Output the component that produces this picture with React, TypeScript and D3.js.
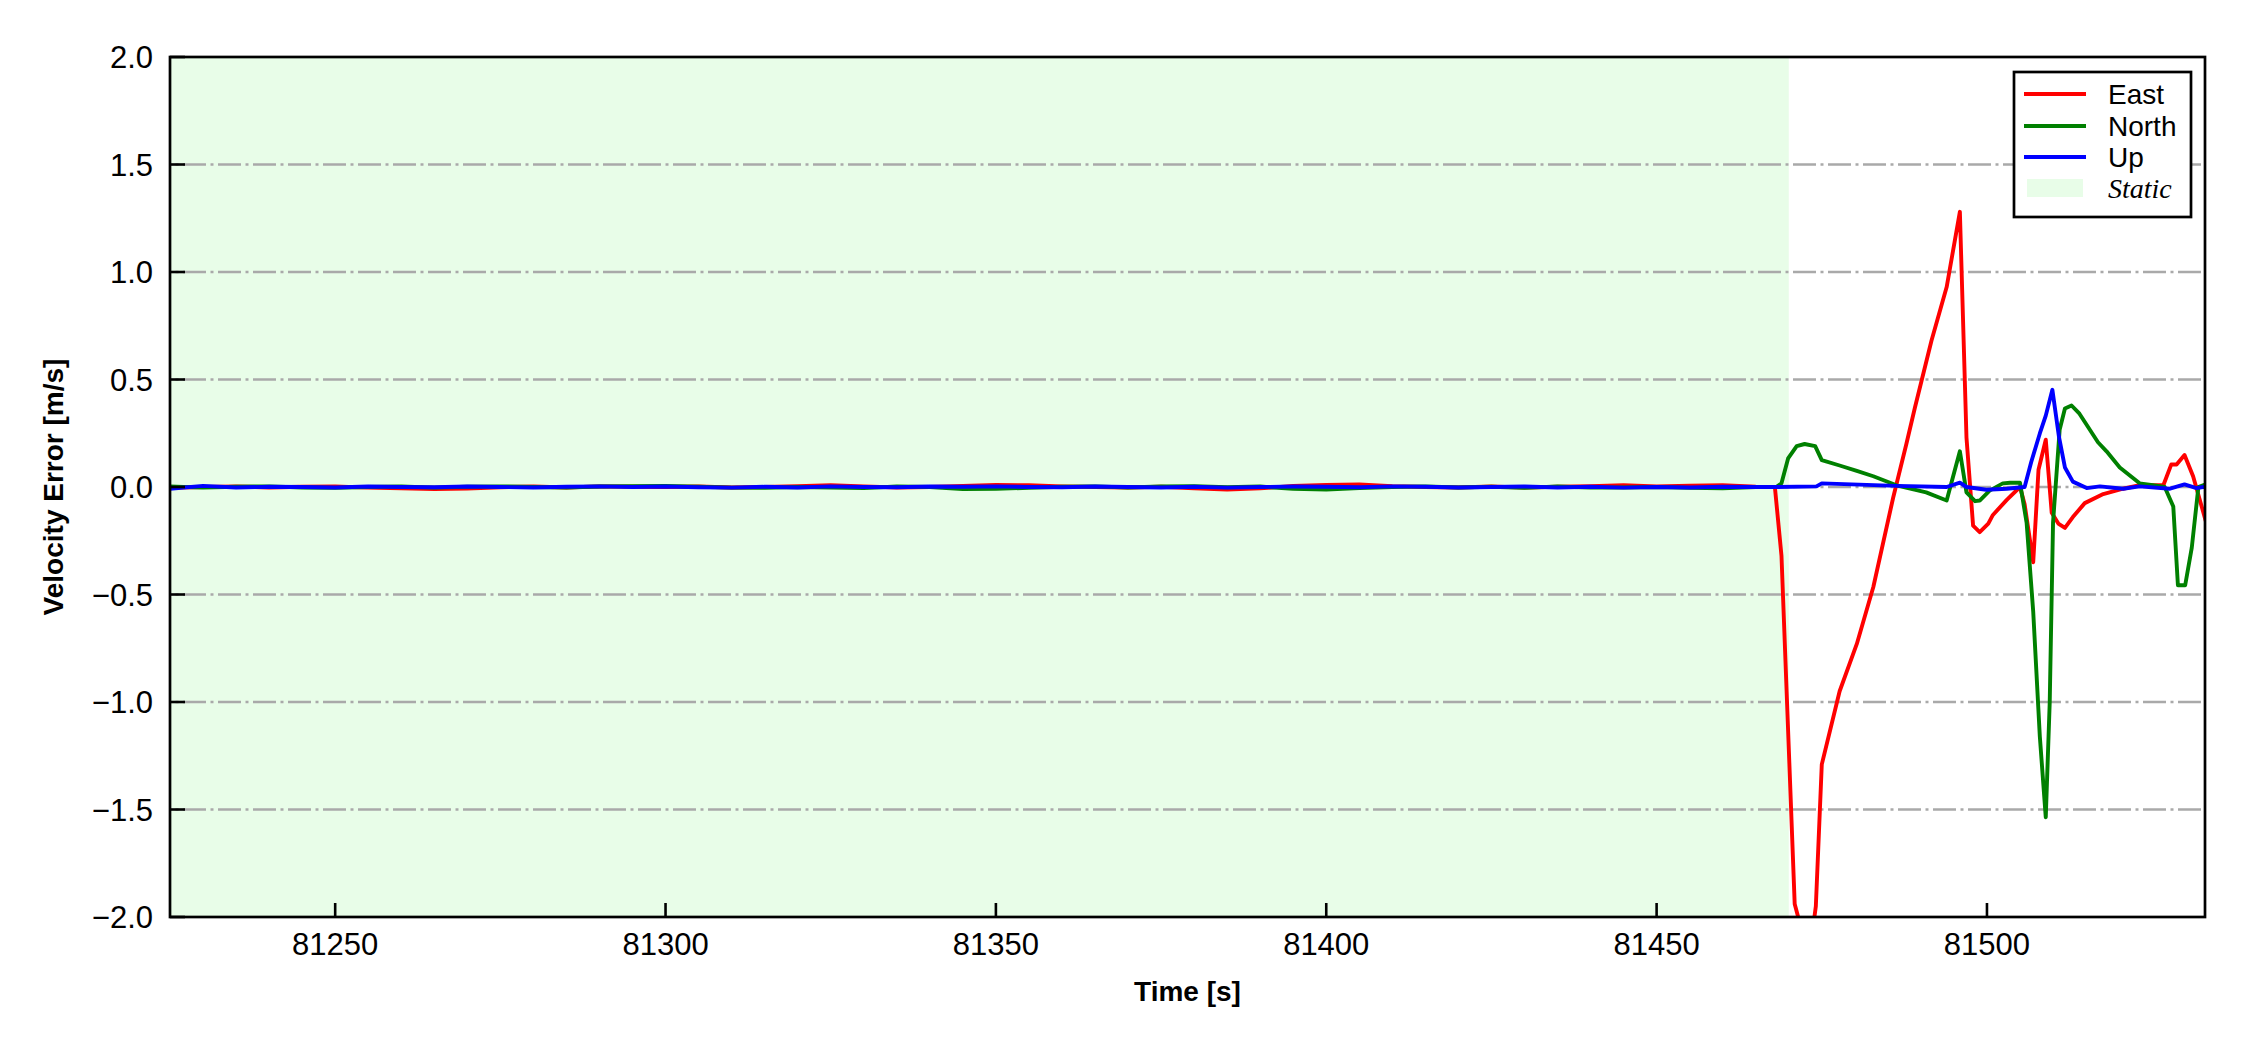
import React from 'react';
import * as d3 from 'd3';

// ---------- DATA ----------
const staticTimes = [
  81225, 81230, 81235, 81240, 81245, 81250, 81255, 81260, 81265, 81270,
  81275, 81280, 81285, 81290, 81295, 81300, 81305, 81310, 81315, 81320,
  81325, 81330, 81335, 81340, 81345, 81350, 81355, 81360, 81365, 81370,
  81375, 81380, 81385, 81390, 81395, 81400, 81405, 81410, 81415, 81420,
  81425, 81430, 81435, 81440, 81445, 81450, 81455, 81460, 81465,
];
const eastStatic = [
  -0.004, 0.0, 0.003, -0.002, 0.001, 0.002, -0.003, -0.006, -0.01, -0.007,
  -0.001, 0.002, -0.002, 0.003, 0.001, 0.0, 0.002, -0.002, 0.0, 0.004,
  0.008, 0.003, -0.002, 0.0, 0.005, 0.01, 0.008, 0.003, 0.0, -0.002,
  0.001, -0.006, -0.012, -0.006, 0.005, 0.01, 0.012, 0.004, 0.0, -0.002,
  0.002, -0.003, 0.001, 0.004, 0.008, 0.002, 0.006, 0.008, 0.001,
];
const northStatic = [
  0.002, -0.003, 0.001, 0.003, -0.002, -0.004, 0.0, 0.002, -0.003, 0.001,
  0.003, 0.0, -0.002, 0.002, 0.004, 0.005, 0.001, -0.003, -0.004, 0.0,
  -0.002, -0.005, 0.002, 0.0, -0.01, -0.008, -0.004, 0.001, 0.003, -0.002,
  0.002, 0.004, -0.001, 0.002, -0.008, -0.012, -0.005, 0.0, 0.003, -0.002,
  0.001, -0.004, 0.002, -0.003, -0.002, 0.0, -0.004, -0.006, 0.0,
];
const upStatic = [
  -0.008, 0.005, -0.002, 0.001, 0.0, -0.002, 0.002, 0.0, -0.001, 0.002,
  0.0, -0.002, 0.001, 0.003, 0.0, 0.002, -0.001, -0.003, 0.001, -0.002,
  0.003, 0.0, -0.001, 0.002, 0.001, 0.003, 0.0, -0.001, 0.002, 0.0,
  -0.002, 0.001, -0.003, 0.0, 0.002, 0.001, -0.001, 0.003, 0.001, -0.002,
  0.0, 0.002, -0.002, 0.001, -0.003, 0.0, -0.002, 0.001, 0.0,
];

const eastDynamic: [number, number][] = [
  [81467.9, 0.0], [81468.9, -0.32], [81470.9, -1.94], [81471.6, -2.02],
  [81473.8, -2.02], [81474.1, -1.95], [81475.0, -1.29], [81477.7, -0.95],
  [81480.3, -0.73], [81482.8, -0.465], [81485.8, -0.05], [81487.8, 0.2],
  [81489.1, 0.37], [81491.6, 0.68], [81493.9, 0.93], [81495.9, 1.28],
  [81496.9, 0.23], [81497.9, -0.18], [81498.9, -0.21], [81500.2, -0.17],
  [81500.9, -0.13], [81503.0, -0.06], [81505.0, 0.0], [81505.7, -0.08],
  [81507.0, -0.35], [81507.8, 0.08], [81508.9, 0.22], [81509.8, -0.12],
  [81510.8, -0.17], [81511.8, -0.19], [81513.0, -0.14], [81514.8, -0.075],
  [81517.6, -0.033], [81520.6, -0.008], [81523.1, 0.008], [81526.7, 0.008],
  [81527.9, 0.105], [81528.7, 0.105], [81529.9, 0.149], [81531.2, 0.05],
  [81533.5, -0.2],
];
const northDynamic: [number, number][] = [
  [81468.1, 0.0], [81468.9, 0.017], [81469.9, 0.133], [81471.2, 0.19],
  [81472.4, 0.2], [81474.0, 0.19], [81475.0, 0.125], [81477.7, 0.1],
  [81480.3, 0.075], [81482.8, 0.05], [81486.3, 0.008], [81490.8, -0.025],
  [81493.9, -0.063], [81495.9, 0.166], [81496.9, -0.025], [81498.2, -0.066],
  [81498.9, -0.063], [81500.4, -0.017], [81502.4, 0.017], [81503.5, 0.02],
  [81505.0, 0.02], [81506.0, -0.166], [81507.0, -0.58], [81508.0, -1.16],
  [81508.9, -1.536], [81509.5, -1.0], [81510.0, -0.166], [81511.0, 0.266],
  [81511.8, 0.365], [81512.8, 0.379], [81514.0, 0.341], [81516.8, 0.208],
  [81518.1, 0.166], [81520.1, 0.091], [81523.1, 0.017], [81525.1, 0.008],
  [81526.9, 0.0], [81528.2, -0.091], [81528.9, -0.457], [81530.0, -0.457],
  [81531.0, -0.282], [81532.0, 0.0], [81533.5, 0.017],
];
const upDynamic: [number, number][] = [
  [81468.0, 0.0], [81474.2, 0.003], [81475.0, 0.017], [81486.3, 0.005],
  [81493.9, 0.0], [81495.9, 0.02], [81496.9, 0.0], [81499.9, -0.013],
  [81503.0, -0.008], [81505.7, 0.0], [81506.7, 0.116], [81508.0, 0.249],
  [81508.9, 0.332], [81509.9, 0.452], [81510.9, 0.233], [81511.8, 0.091],
  [81513.0, 0.025], [81515.1, -0.005], [81517.1, 0.003], [81520.6, -0.008],
  [81523.1, 0.003], [81527.7, -0.008], [81529.9, 0.012], [81531.7, -0.005],
  [81533.5, 0.003],
];

const seriesNames = ['East', 'North', 'Up'];
const seriesColors = ['#ff0000', '#008000', '#0000ff'];
const staticLabel = 'Static';
const staticSpan = [81225, 81470];
const xDomain = [81225, 81533];
const yDomain = [-2, 2];
const xTicks = [81250, 81300, 81350, 81400, 81450, 81500];
const yTicks = [-2.0, -1.5, -1.0, -0.5, 0.0, 0.5, 1.0, 1.5, 2.0];
const xLabel = 'Time [s]';
const yLabel = 'Velocity Error [m/s]';

// ---------- CHART ----------
const W = 2250;
const H = 1050;
const L = 170, R = 2205, T = 57, B = 917;
const SANS = '"Liberation Sans", Arial, Helvetica, sans-serif';
const SERIF = '"Liberation Serif", "Times New Roman", serif';
const LW = 3.9;

export default function App() {
  const x = d3.scaleLinear().domain(xDomain).range([L, R]);
  const y = d3.scaleLinear().domain(yDomain).range([B, T]);
  const fmt = d3.format('.1f');

  const build = (st: number[], dyn: [number, number][]) =>
    [...staticTimes.map((t, i) => [t, st[i]] as [number, number]), ...dyn];
  const series = [
    build(eastStatic, eastDynamic),
    build(northStatic, northDynamic),
    build(upStatic, upDynamic),
  ];
  const line = d3
    .line<[number, number]>()
    .x((d) => x(d[0]))
    .y((d) => y(d[1]));

  const gridTicks = yTicks.filter((v) => v > yDomain[0] && v < yDomain[1]);

  const legX = 2014, legY = 72, legW = 177, legH = 145;
  const rowY = [94, 126, 157, 188];

  return (
    <svg
      width={W}
      height={H}
      style={{ position: 'absolute', left: 0, top: 0, background: '#fff' }}
      fontFamily={SANS}
    >
      <rect x={0} y={0} width={W} height={H} fill="#fff" />
      <defs>
        <clipPath id="plotclip">
          <rect x={L} y={T} width={R - L} height={B - T} />
        </clipPath>
      </defs>
      {/* static shading */}
      <rect
        x={x(staticSpan[0])}
        y={T}
        width={x(staticSpan[1]) - x(staticSpan[0])}
        height={B - T}
        fill="#e8fde8"
      />
      {/* grid */}
      {gridTicks.map((v) => (
        <line
          key={'g' + v}
          x1={L}
          x2={R}
          y1={y(v)}
          y2={y(v)}
          stroke="#a9a9a9"
          strokeWidth={2.6}
          strokeDasharray="23 4.5 3 4.5"
          strokeDashoffset={-13}
        />
      ))}
      {/* lines */}
      <g clipPath="url(#plotclip)">
        {series.map((s, i) => (
          <path
            key={seriesNames[i]}
            d={line(s) || ''}
            fill="none"
            stroke={seriesColors[i]}
            strokeWidth={LW}
            strokeLinejoin="round"
            strokeLinecap="butt"
          />
        ))}
      </g>
      {/* ticks */}
      {yTicks.map((v) => (
        <g key={'yt' + v}>
          <line x1={L} x2={L + 15} y1={y(v)} y2={y(v)} stroke="#000" strokeWidth={2.6} />
          <text
            x={153}
            y={y(v)}
            dy="0.36em"
            textAnchor="end"
            fontSize={31}
            fill="#000"
          >
            {fmt(v)}
          </text>
        </g>
      ))}
      {xTicks.map((v) => (
        <g key={'xt' + v}>
          <line x1={x(v)} x2={x(v)} y1={B} y2={B - 14} stroke="#000" strokeWidth={2.6} />
          <text x={x(v)} y={955} textAnchor="middle" fontSize={31} fill="#000">
            {v}
          </text>
        </g>
      ))}
      {/* frame */}
      <rect x={L} y={T} width={R - L} height={B - T} fill="none" stroke="#000" strokeWidth={2.7} />
      {/* axis labels */}
      <text x={(L + R) / 2} y={1001} textAnchor="middle" fontSize={28} fontWeight="bold" fill="#000">
        {xLabel}
      </text>
      <text
        transform={`translate(63, ${(T + B) / 2}) rotate(-90)`}
        textAnchor="middle"
        fontSize={28}
        fontWeight="bold"
        fill="#000"
      >
        {yLabel}
      </text>
      {/* legend */}
      <rect x={legX} y={legY} width={legW} height={legH} fill="#fff" stroke="#000" strokeWidth={2.7} />
      {seriesNames.map((n, i) => (
        <g key={'leg' + n}>
          <line x1={2024} x2={2086} y1={rowY[i]} y2={rowY[i]} stroke={seriesColors[i]} strokeWidth={LW} />
          <text x={2108} y={rowY[i]} dy="0.36em" fontSize={28} fill="#000">
            {n}
          </text>
        </g>
      ))}
      <rect x={2027} y={rowY[3] - 9} width={56} height={18} fill="#e8fde8" />
      <text x={2108} y={rowY[3]} dy="0.36em" fontSize={28} fontStyle="italic" fontFamily={SERIF} fill="#000">
        {staticLabel}
      </text>
    </svg>
  );
}
